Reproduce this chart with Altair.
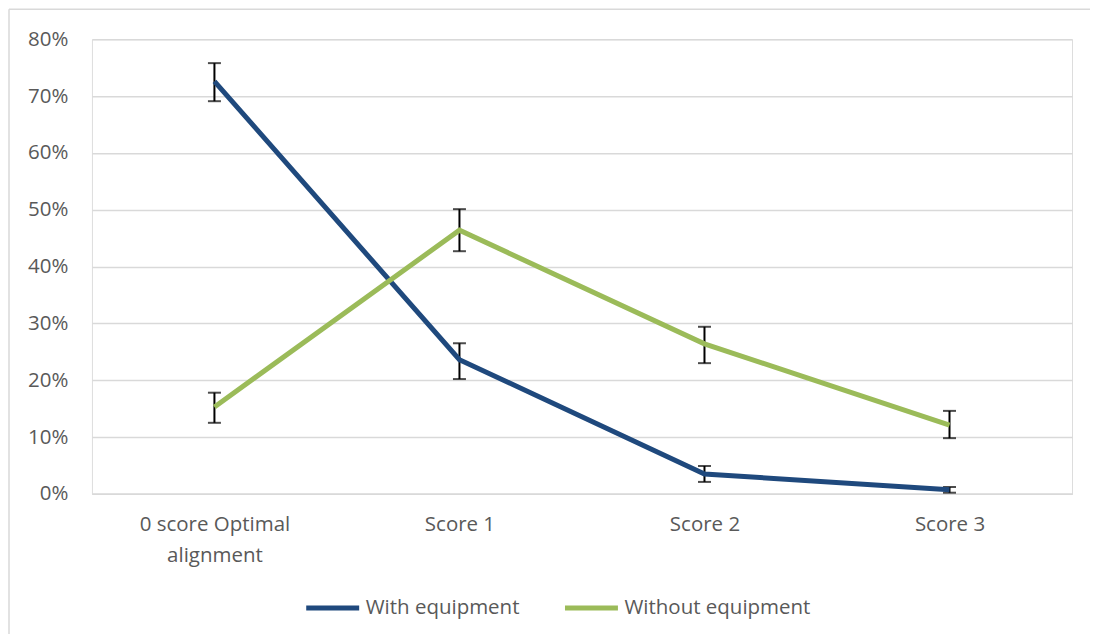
import altair as alt
import pandas as pd

categories = ["0 score Optimal alignment", "Score 1", "Score 2", "Score 3"]
series = ["With equipment", "Without equipment"]
with_vals = [0.726, 0.236, 0.035, 0.007]
with_lo = [0.691, 0.202, 0.021, 0.002]
with_hi = [0.758, 0.265, 0.049, 0.012]
without_vals = [0.153, 0.464, 0.264, 0.121]
without_lo = [0.125, 0.427, 0.230, 0.098]
without_hi = [0.178, 0.501, 0.294, 0.146]
colors = ["#1F497D", "#9BBB59"]

rows = []
for s, vals, lo, hi in [(series[0], with_vals, with_lo, with_hi),
                        (series[1], without_vals, without_lo, without_hi)]:
    for c, v, l, h in zip(categories, vals, lo, hi):
        rows.append({"category": c, "series": s, "value": v, "lo": l, "hi": h})
df = pd.DataFrame(rows)

FONT = "Open Sans"
TXT = "#595959"
FS = 20.5

x = alt.X("category:N", sort=categories, title=None,
          scale=alt.Scale(type="point", padding=0.5),
          axis=alt.Axis(labelAngle=0, labelFont=FONT, labelFontSize=FS, labelColor=TXT,
                        labelPadding=21, ticks=False, domainColor="#d9d9d9", domainWidth=1.5,
                        labelLineHeight=31, labelLimit=400,
                        labelExpr="datum.label == '0 score Optimal alignment' ? ['0 score Optimal', 'alignment'] : datum.label"))
y = alt.Y("value:Q", title=None,
          scale=alt.Scale(domain=[0, 0.8], nice=False),
          axis=alt.Axis(format=".0%", values=[0, .1, .2, .3, .4, .5, .6, .7, .8],
                        labelFont=FONT, labelFontSize=FS, labelColor=TXT, labelPadding=24,
                        ticks=False, domain=False, gridColor="#d9d9d9", gridWidth=1.5))

base = alt.Chart(df)

err_rule = base.mark_rule(color="black", strokeWidth=2).encode(
    x=x, y=alt.Y("lo:Q"), y2="hi:Q", detail="series:N")
err_lo = base.mark_tick(color="black", orient="horizontal", size=13, thickness=2).encode(
    x=x, y="lo:Q", detail="series:N")
err_hi = base.mark_tick(color="black", orient="horizontal", size=13, thickness=2).encode(
    x=x, y="hi:Q", detail="series:N")

lines = base.mark_line(strokeWidth=5).encode(
    x=x, y=y,
    color=alt.Color("series:N", sort=series,
                    scale=alt.Scale(domain=series, range=colors),
                    legend=alt.Legend(title=None, orient="none", direction="horizontal",
                                      legendX=212, legendY=85 + 455,
                                      symbolType="stroke", symbolSize=2809, symbolStrokeWidth=5,
                                      labelFont=FONT, labelFontSize=FS, labelColor=TXT,
                                      labelLimit=400, labelOffset=4, columnPadding=34)),
    order=alt.Order("series:N"))

border_top = alt.Chart(pd.DataFrame({"a": [0]})).mark_rule(color="#d9d9d9", strokeWidth=1.5).encode(
    x=alt.value(-83), x2=alt.value(1000), y=alt.value(-30))
border_left = alt.Chart(pd.DataFrame({"a": [0]})).mark_rule(color="#d9d9d9", strokeWidth=1.5).encode(
    x=alt.value(-83), y=alt.value(-30), y2=alt.value(610))

chart = alt.layer(border_top, border_left, err_rule, err_lo, err_hi, lines).properties(
    width=981, height=455,
    autosize=alt.AutoSizeParams(type="none"),
    padding={"left": 84, "top": 31, "right": 18, "bottom": 140},
).configure_view(stroke=None).configure(background="white")

chart.save("out.html", embed_options={"renderer": "svg", "actions": False})
